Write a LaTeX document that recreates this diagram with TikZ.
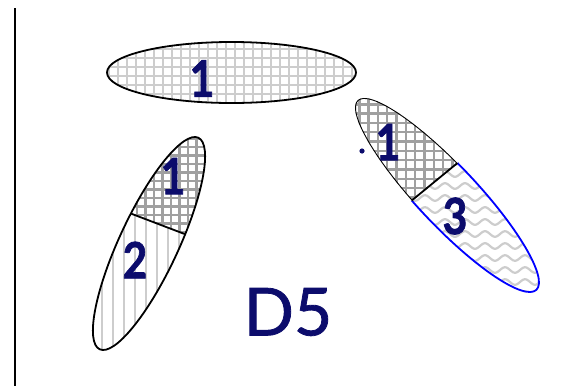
\documentclass[tikz,border=0pt]{standalone}
\usepackage{fontspec}
\newfontfamily\labfont{Lato}[BoldFeatures={FakeBold=1.6},UprightFeatures={FakeBold=1.2}]
\definecolor{navy}{RGB}{12,12,108}
\definecolor{lightg}{RGB}{205,205,205}
\definecolor{darkg}{RGB}{160,160,160}
\begin{document}
\begin{tikzpicture}[x=1pt,y=1pt,
  lab/.style={text=navy,font=\labfont\bfseries\fontsize{50}{50}\selectfont,inner sep=0pt,xscale=0.85},
  big/.style={text=navy,font=\labfont\fontsize{66}{66}\selectfont,inner sep=0pt},
  outl/.style={line width=1.8pt},
  lgrid/.style={lightg,line width=2.4pt},
  dgrid/.style={darkg,line width=2.4pt},
  vlines/.style={lightg,line width=2.6pt},
  wave/.style={lightg,line width=2.2pt}]
\useasboundingbox (0,0) rectangle (561,-386);
% left rule
\draw[line width=1.8pt] (15,-8) -- (15,-386);

% ---------- top ellipse ----------
\begin{scope}
\clip (231.5,-72.5) ellipse [x radius=124.5,y radius=30.5];
\foreach \gx in {100,109,...,365} \draw[lgrid] (\gx,-38) -- (\gx,-108);
\foreach \gy in {-40,-49,...,-108} \draw[lgrid] (100,\gy) -- (365,\gy);
\end{scope}
\draw[outl] (231.5,-72.5) ellipse [x radius=124.5,y radius=30.5];
\node[lab] (t1) at (202,-78.5) {1};

% ---------- left ellipse ----------
\begin{scope}
\clip[shift={(149,-243.5)},rotate=65] (0,0) ellipse [x radius=116.7,y radius=29.5];
\clip[shift={(149,-243.5)},rotate=65] (18.7,40) -- (200,40) -- (200,-40) -- (24.5,-40) -- cycle;
\foreach \gx in {120,128.5,...,215} \draw[dgrid] (\gx,-128) -- (\gx,-245);
\foreach \gy in {-130,-138.5,...,-245} \draw[dgrid] (115,\gy) -- (215,\gy);
\end{scope}
\begin{scope}
\clip[shift={(149,-243.5)},rotate=65] (0,0) ellipse [x radius=116.7,y radius=29.5];
\clip[shift={(149,-243.5)},rotate=65] (18.7,40) -- (-200,40) -- (-200,-40) -- (24.5,-40) -- cycle;
\foreach \gx in {91,102,...,210} \draw[vlines] (\gx,-195) -- (\gx,-360);
\end{scope}
\begin{scope}
\clip[shift={(149,-243.5)},rotate=65] (0,0) ellipse [x radius=116.7,y radius=29.5];
\draw[outl,shift={(149,-243.5)},rotate=65] (18.7,40) -- (24.5,-40);
\end{scope}
\draw[outl,shift={(149,-243.5)},rotate=65] (0,0) ellipse [x radius=116.7,y radius=29.5];
\node[lab] (l1) at (173,-176) {1};
\node[lab] (l2) at (135,-260) {2};

% ---------- right ellipse ----------
\begin{scope}
\clip[shift={(447,-195)},rotate=-46.7] (0,0) ellipse [x radius=130.3,y radius=29.8];
\clip[shift={(447,-195)},rotate=-46.7] (-15.4,40) -- (-200,40) -- (-200,-40) -- (-20.9,-40) -- cycle;
\foreach \gx in {350,359.3,...,470} \draw[dgrid] (\gx,-92) -- (\gx,-215);
\foreach \gy in {-95,-104.3,...,-215} \draw[dgrid] (348,\gy) -- (470,\gy);
\draw[outl,shift={(447,-195)},rotate=-46.7] (0,0) ellipse [x radius=130.3,y radius=29.8];
\end{scope}
\begin{scope}
\clip[shift={(447,-195)},rotate=-46.7] (0,0) ellipse [x radius=130.3,y radius=29.8];
\clip[shift={(447,-195)},rotate=-46.7] (-15.4,40) -- (200,40) -- (200,-40) -- (-20.9,-40) -- cycle;
\foreach \w in {-150,-162,...,-300}
  \draw[wave] plot[domain=395:545,samples=90,smooth] (\x,{\w+2.8*sin(18*\x)});
\end{scope}
\begin{scope}
\clip[shift={(447,-195)},rotate=-46.7] (-15.4,40) -- (200,40) -- (200,-40) -- (-20.9,-40) -- cycle;
\draw[outl,blue,shift={(447,-195)},rotate=-46.7] (0,0) ellipse [x radius=130.3,y radius=29.8];
\end{scope}
\begin{scope}
\clip[shift={(447,-195)},rotate=-46.7] (0,0) ellipse [x radius=130.3,y radius=29.8];
\draw[outl,shift={(447,-195)},rotate=-46.7] (-15.4,40) -- (-20.9,-40);
\end{scope}
\fill[navy] (362,-151) circle [radius=2.6];
\node[lab] (r1) at (388,-142) {1};
\node[lab] (r3) at (455,-216) {3};

% ---------- D5 ----------
\node[big] (d5) at (288,-312) {D5};
\end{tikzpicture}
\end{document}
